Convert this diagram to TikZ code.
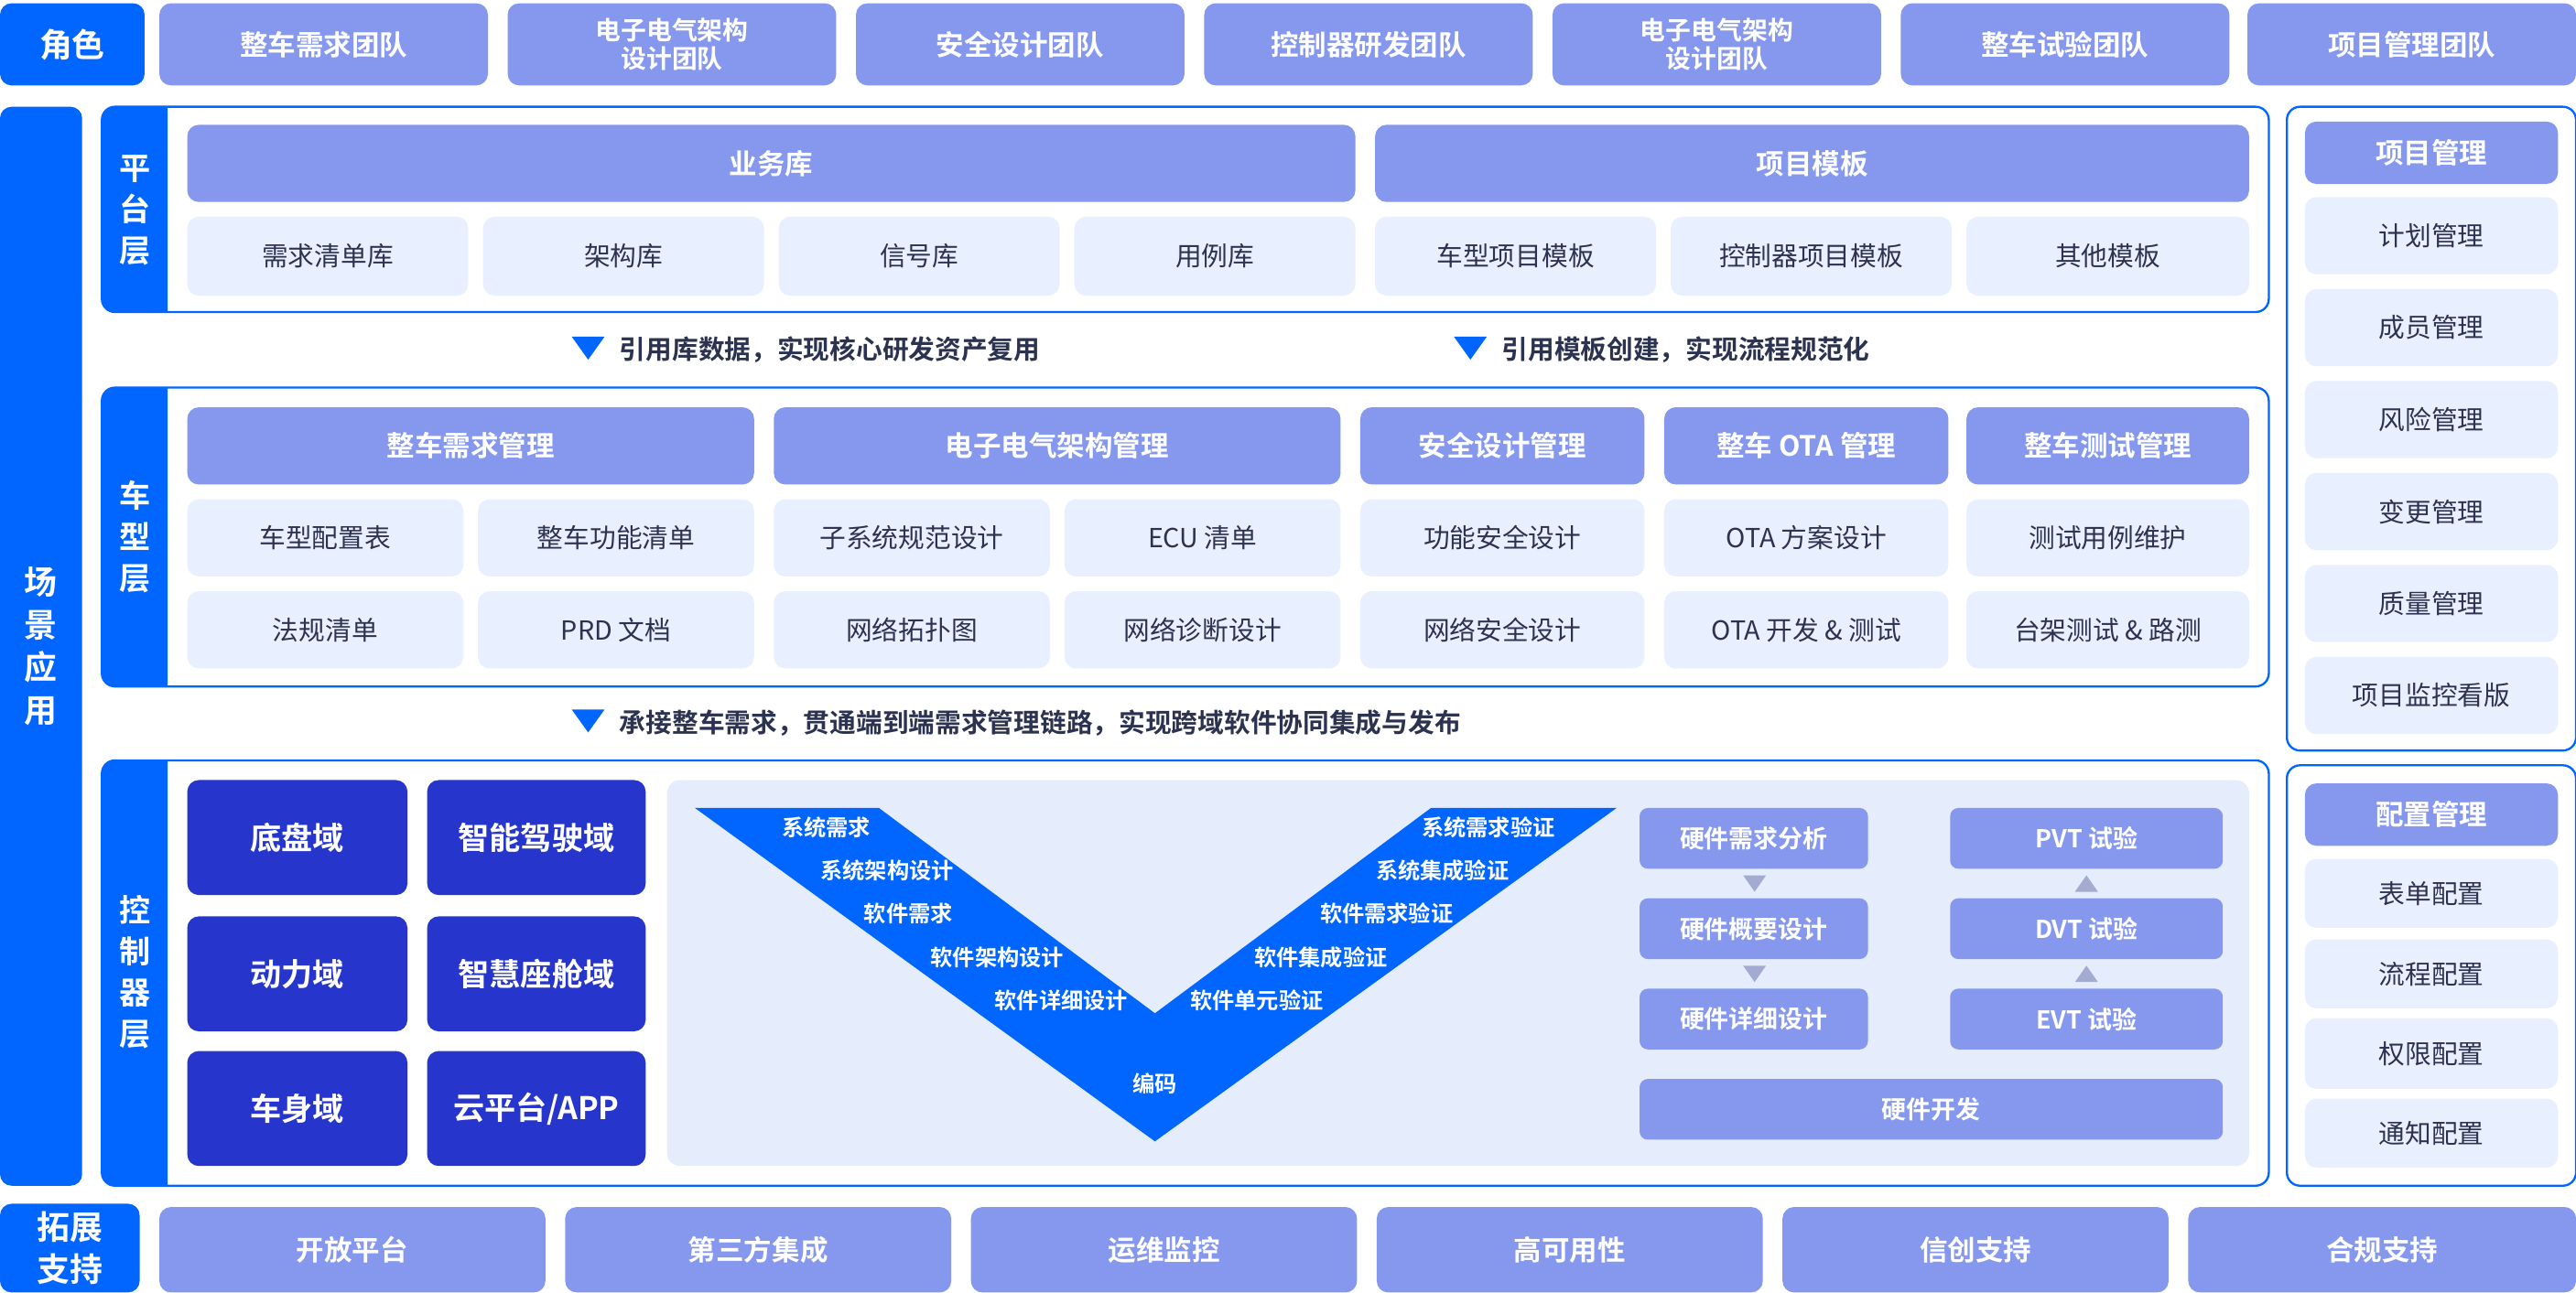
\documentclass[tikz,border=0pt]{standalone}
\usepackage{fontspec}
\setmainfont{Noto Sans CJK SC}[BoldFont={* Bold}]
\newfontfamily\med{Noto Sans CJK SC Medium}
\definecolor{mblue}{HTML}{0066FF}
\definecolor{peri}{HTML}{8598EE}
\definecolor{lite}{HTML}{E8EFFE}
\definecolor{vbg}{HTML}{E5EDFD}
\definecolor{navy}{HTML}{2636CC}
\definecolor{dtext}{HTML}{2B3350}
\definecolor{tri}{HTML}{A3ACD0}
\newcommand\B[7]{\node[#1,minimum width={#5-#3},minimum height={#6-#4}] (#2) at ({(#3+#5)/2},{(#4+#6)/2}) {#7};}
\begin{document}
\begin{tikzpicture}[x=1pt,y=-1pt,
 base/.style={inner sep=0pt,rounded corners=7pt,align=center,font=\bfseries\fontsize{15}{16}\selectfont},
 hd/.style={base,fill=peri,text=white,font=\bfseries\fontsize{17}{18}\selectfont},
 hd2/.style={base,fill=peri,text=white,font=\bfseries\fontsize{15.5}{17}\selectfont},
 lt/.style={base,fill=lite,text=dtext,font=\fontsize{16}{17}\selectfont},
 bl/.style={base,fill=mblue,text=white,font=\bfseries\fontsize{20}{26}\selectfont},
 dm/.style={base,fill=navy,text=white,font=\bfseries\fontsize{19}{20}\selectfont},
 hw/.style={base,rounded corners=5pt,fill=peri,text=white,font=\bfseries\fontsize{15}{16}\selectfont},
 vl/.style={inner sep=0pt,text=white,font=\bfseries\fontsize{13.5}{14}\selectfont},
 note/.style={inner sep=0pt,anchor=west,text=dtext,font=\bfseries\fontsize{16}{17}\selectfont},
 panel/.style={draw=mblue,line width=1.3pt,fill=white,rounded corners=8pt}]
\useasboundingbox (0,0) rectangle (1568,787);
% roles
\B{bl}{role}{0}{2}{88}{52}{角色}
\B{hd}{r1}{97}{2}{297}{52}{整车需求团队}
\B{hd2}{r2}{309}{2}{509}{52}{电子电气架构\\设计团队}
\B{hd}{r3}{521}{2}{721}{52}{安全设计团队}
\B{hd}{r4}{733}{2}{933}{52}{控制器研发团队}
\B{hd2}{r5}{945}{2}{1145}{52}{电子电气架构\\设计团队}
\B{hd}{r6}{1157}{2}{1357}{52}{整车试验团队}
\B{hd}{r7}{1368}{2}{1568}{52}{项目管理团队}
% scene bar
\B{bl}{scene}{0}{65}{50}{722}{场\\景\\应\\用}
% platform panel
\draw[panel] (62,65) rectangle (1381,190);
\fill[mblue] {[rounded corners=8pt] (102,190) -- (62,190) -- (62,65)} -- (102,65) -- cycle;
\node[inner sep=0,text=white,align=center,font=\bfseries\fontsize{19}{25}\selectfont] (pl) at (82,128) {平\\台\\层};
\B{hd}{p1}{114}{76}{825}{123}{业务库}
\B{hd}{p2}{837}{76}{1369}{123}{项目模板}
\B{lt}{p3}{114}{132}{285}{180}{需求清单库}
\B{lt}{p4}{294}{132}{465}{180}{架构库}
\B{lt}{p5}{474}{132}{645}{180}{信号库}
\B{lt}{p6}{654}{132}{825}{180}{用例库}
\B{lt}{p7}{837}{132}{1008}{180}{车型项目模板}
\B{lt}{p8}{1017}{132}{1188}{180}{控制器项目模板}
\B{lt}{p9}{1197}{132}{1369}{180}{其他模板}
% notes
\fill[mblue] (348,205) -- (368,205) -- (358,219) -- cycle;
\node[note] (n1) at (377,213) {引用库数据，实现核心研发资产复用};
\fill[mblue] (885,205) -- (905,205) -- (895,219) -- cycle;
\node[note] (n2) at (914,213) {引用模板创建，实现流程规范化};
% vehicle panel
\draw[panel] (62,236) rectangle (1381,418);
\fill[mblue] {[rounded corners=8pt] (102,418) -- (62,418) -- (62,236)} -- (102,236) -- cycle;
\node[inner sep=0,text=white,align=center,font=\bfseries\fontsize{19}{25}\selectfont] (vh) at (82,327) {车\\型\\层};
\B{hd}{v1}{114}{248}{459}{295}{整车需求管理}
\B{hd}{v2}{471}{248}{816}{295}{电子电气架构管理}
\B{hd}{v3}{828}{248}{1001}{295}{安全设计管理}
\B{hd}{v4}{1013}{248}{1186}{295}{整车 OTA 管理}
\B{hd}{v5}{1197}{248}{1369}{295}{整车测试管理}
\B{lt}{a1}{114}{304}{282}{351}{车型配置表}
\B{lt}{a2}{291}{304}{459}{351}{整车功能清单}
\B{lt}{a3}{471}{304}{639}{351}{子系统规范设计}
\B{lt}{a4}{648}{304}{816}{351}{ECU 清单}
\B{lt}{a5}{828}{304}{1001}{351}{功能安全设计}
\B{lt}{a6}{1013}{304}{1186}{351}{OTA 方案设计}
\B{lt}{a7}{1197}{304}{1369}{351}{测试用例维护}
\B{lt}{b1}{114}{360}{282}{407}{法规清单}
\B{lt}{b2}{291}{360}{459}{407}{PRD 文档}
\B{lt}{b3}{471}{360}{639}{407}{网络拓扑图}
\B{lt}{b4}{648}{360}{816}{407}{网络诊断设计}
\B{lt}{b5}{828}{360}{1001}{407}{网络安全设计}
\B{lt}{b6}{1013}{360}{1186}{407}{OTA 开发 \& 测试}
\B{lt}{b7}{1197}{360}{1369}{407}{台架测试 \& 路测}
\fill[mblue] (348,432) -- (368,432) -- (358,446) -- cycle;
\node[note] (n3) at (377,440) {承接整车需求，贯通端到端需求管理链路，实现跨域软件协同集成与发布};
% controller panel
\draw[panel] (62,463) rectangle (1381,722);
\fill[mblue] {[rounded corners=8pt] (102,722) -- (62,722) -- (62,463)} -- (102,463) -- cycle;
\node[inner sep=0,text=white,align=center,font=\bfseries\fontsize{19}{25}\selectfont] (ct) at (82,592) {控\\制\\器\\层};
\B{dm}{d1}{114}{475}{248}{545}{底盘域}
\B{dm}{d2}{260}{475}{393}{545}{智能驾驶域}
\B{dm}{d3}{114}{558}{248}{628}{动力域}
\B{dm}{d4}{260}{558}{393}{628}{智慧座舱域}
\B{dm}{d5}{114}{640}{248}{710}{车身域}
\B{dm}{d6}{260}{640}{393}{710}{云平台/APP}
\fill[vbg,rounded corners=8pt] (406,475) rectangle (1369,710);
\fill[mblue] (423,492) -- (535,492) -- (703,617) -- (871,492) -- (984,492) -- (703,695) -- cycle;
\node[vl] (l1) at (503,504) {系统需求};
\node[vl] (l2) at (540,530) {系统架构设计};
\node[vl] (l3) at (553,556) {软件需求};
\node[vl] (l4) at (607,583) {软件架构设计};
\node[vl] (l5) at (646,609) {软件详细设计};
\node[vl] (l6) at (703,660) {编码};
\node[vl] (r1l) at (906,504) {系统需求验证};
\node[vl] (r2l) at (878,530) {系统集成验证};
\node[vl] (r3l) at (844,556) {软件需求验证};
\node[vl] (r4l) at (804,583) {软件集成验证};
\node[vl] (r5l) at (765,609) {软件单元验证};
\B{hw}{h1}{998}{492}{1137}{529}{硬件需求分析}
\B{hw}{h2}{998}{547}{1137}{584}{硬件概要设计}
\B{hw}{h3}{998}{602}{1137}{639}{硬件详细设计}
\B{hw}{t1}{1187}{492}{1353}{529}{PVT 试验}
\B{hw}{t2}{1187}{547}{1353}{584}{DVT 试验}
\B{hw}{t3}{1187}{602}{1353}{639}{EVT 试验}
\B{hw}{h4}{998}{657}{1353}{694}{硬件开发}
\fill[tri] (1061,533) -- (1075,533) -- (1068,543) -- cycle;
\fill[tri] (1061,588) -- (1075,588) -- (1068,598) -- cycle;
\fill[tri] (1263,543) -- (1277,543) -- (1270,533) -- cycle;
\fill[tri] (1263,598) -- (1277,598) -- (1270,588) -- cycle;
% right panels
\draw[panel] (1392,65) rectangle (1568,457);
\B{hd}{m0}{1403}{74}{1557}{112}{项目管理}
\B{lt}{m1}{1403}{120}{1557}{167}{计划管理}
\B{lt}{m2}{1403}{176}{1557}{223}{成员管理}
\B{lt}{m3}{1403}{232}{1557}{279}{风险管理}
\B{lt}{m4}{1403}{288}{1557}{335}{变更管理}
\B{lt}{m5}{1403}{344}{1557}{391}{质量管理}
\B{lt}{m6}{1403}{400}{1557}{447}{项目监控看版}
\draw[panel] (1392,466) rectangle (1568,722);
\B{hd}{c0}{1403}{477}{1557}{515}{配置管理}
\B{lt}{c1}{1403}{523}{1557}{565}{表单配置}
\B{lt}{c2}{1403}{572}{1557}{614}{流程配置}
\B{lt}{c3}{1403}{620}{1557}{663}{权限配置}
\B{lt}{c4}{1403}{669}{1557}{711}{通知配置}
% bottom
\B{bl}{ext}{0}{733}{85}{787}{拓展\\支持}
\B{hd}{e1}{97}{735}{332}{787}{开放平台}
\B{hd}{e2}{344}{735}{579}{787}{第三方集成}
\B{hd}{e3}{591}{735}{826}{787}{运维监控}
\B{hd}{e4}{838}{735}{1073}{787}{高可用性}
\B{hd}{e5}{1085}{735}{1320}{787}{信创支持}
\B{hd}{e6}{1332}{735}{1568}{787}{合规支持}
\end{tikzpicture}
\end{document}
